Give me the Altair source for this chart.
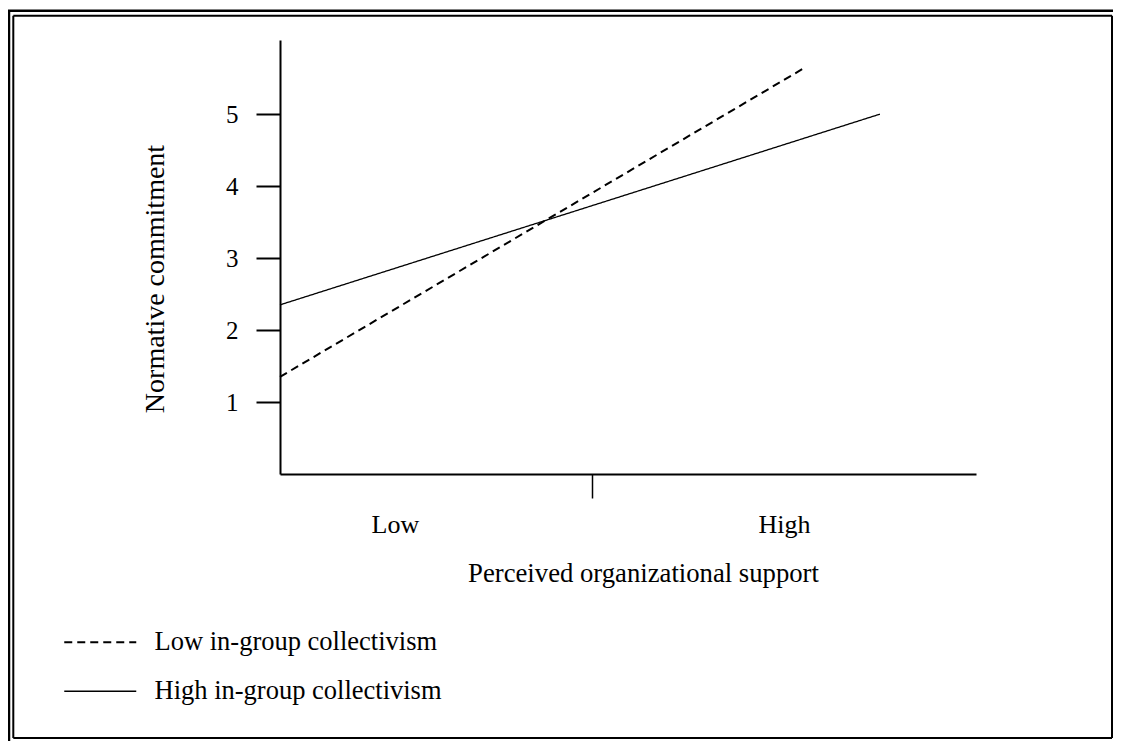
import altair as alt
import pandas as pd

# ---- data ----
groups = ["Low in-group collectivism", "High in-group collectivism"]
x_start = [0.0, 0.0]          # position along the POS axis (0 = left end, 1 = right end)
x_end = [0.753, 0.862]
y_start = [1.35, 2.35]        # normative commitment
y_end = [5.64, 5.00]

y_tick_values = [1, 2, 3, 4, 5]
x_tick_values = [0.165, 0.448, 0.724]
x_tick_labels = ["Low", "", "High"]
mid_tick = 0.448

x_title = "Perceived organizational support"
y_title = "Normative commitment"

FONT = "Liberation Serif"

rows = []
for g, xs, xe, ys, ye in zip(groups, x_start, x_end, y_start, y_end):
    rows.append({"group": g, "x": xs, "y": ys})
    rows.append({"group": g, "x": xe, "y": ye})
df = pd.DataFrame(rows)

label_expr = " : ".join(
    [f"abs(datum.value - {v}) < 0.001 ? '{lab}'" for v, lab in zip(x_tick_values, x_tick_labels)]
) + " : ''"

x_axis = alt.Axis(
    title=x_title,
    values=x_tick_values,
    labelExpr=label_expr,
    tickSize=24,
    tickWidth=1.5,
    tickColor="black",
    tickOpacity={"condition": {"test": f"abs(datum.value - {mid_tick}) < 0.001", "value": 1}, "value": 0},
    labelPadding=34,
    labelBaseline="alphabetic",
    labelFont=FONT,
    labelFontSize=26,
    labelColor="black",
    domainColor="black",
    domainWidth=2,
    titleFont=FONT,
    titleFontSize=26.7,
    titleFontWeight="normal",
    titleColor="black",
    titleX=363,
    titleY=107,
    titleAlign="center",
    titleBaseline="alphabetic",
    grid=False,
)

y_axis = alt.Axis(
    title=y_title,
    values=y_tick_values,
    format="d",
    tickSize=24,
    tickWidth=2,
    tickColor="black",
    labelPadding=18,
    labelFont=FONT,
    labelFontSize=25,
    labelColor="black",
    labelBaseline="middle",
    domainColor="black",
    domainWidth=2,
    titleFont=FONT,
    titleFontSize=28,
    titleFontWeight="normal",
    titleColor="black",
    titleAngle=270,
    titleX=-117,
    titleY=238.5,
    titleAlign="center",
    titleBaseline="alphabetic",
    grid=False,
)

legend = alt.Legend(
    title=None,
    orient="none",
    legendX=-193,
    legendY=589,
    padding=0,
    symbolType="M-3,0H3",
    symbolSize=576,
    symbolStrokeWidth=1.6,
    symbolStrokeColor="black",
    labelFont=FONT,
    labelFontSize=26.5,
    labelColor="black",
    labelOffset=41,
    labelLimit=0,
    rowPadding=22,
)

lines = alt.Chart(df).mark_line(color="black").encode(
    x=alt.X("x:Q", scale=alt.Scale(domain=[0, 1], nice=False, zero=False), axis=x_axis),
    y=alt.Y("y:Q", scale=alt.Scale(domain=[0, 6.03], nice=False), axis=y_axis),
    strokeDash=alt.StrokeDash(
        "group:N", scale=alt.Scale(domain=groups, range=[[8, 5], [1, 0]]), legend=legend, sort=groups
    ),
    strokeWidth=alt.StrokeWidth(
        "group:N", scale=alt.Scale(domain=groups, range=[2, 1.3]), legend=None
    ),
)

# ---- decorative double frame around the figure ----
frame_df = pd.DataFrame({"k": [0]})


def frame_rule(x, x2, y, y2, w):
    return alt.Chart(frame_df).mark_rule(color="black", strokeWidth=w).encode(
        x=alt.value(x), x2=alt.value(x2), y=alt.value(y), y2=alt.value(y2)
    )


BOTTOM = 698
RIGHT = 832
frame = [
    frame_rule(-272, RIGHT + 1, -29.3, -29.3, 2.5),  # outer top
    frame_rule(-271, -271, -30, BOTTOM + 3, 2.5),    # outer left
    frame_rule(-266.7, RIGHT, -24.3, -24.3, 2),      # inner top
    frame_rule(-266.7, -266.7, -24.3, BOTTOM, 2),    # inner left
    frame_rule(RIGHT, RIGHT, -24.3, BOTTOM, 2),      # inner right
    frame_rule(-266.7, RIGHT, BOTTOM, BOTTOM, 2),    # inner bottom
]

chart = alt.layer(lines, *frame).properties(
    width=696,
    height=434,
    autosize=alt.AutoSizeParams(type="none"),
    padding={"left": 272, "top": 32, "right": 137, "bottom": 267},
    background="white",
).configure_view(stroke=None)

chart.save("out.html", embed_options={"renderer": "svg", "actions": False})
